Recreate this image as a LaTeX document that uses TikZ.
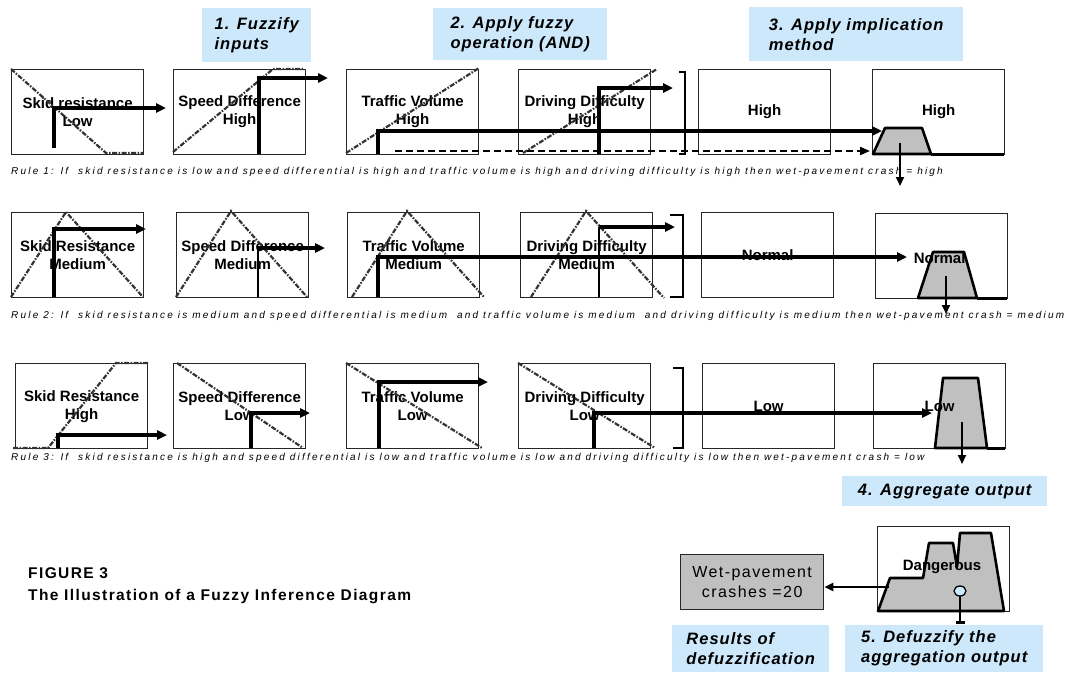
\documentclass[tikz,border=0pt]{standalone}
\usepackage{fontspec}
\setmainfont{Liberation Sans}
\newfontfamily\stepfont[LetterSpace=6]{Liberation Sans}
\newfontfamily\rulefont[LetterSpace=22]{Liberation Sans}
\newfontfamily\capfont[LetterSpace=9]{Liberation Sans}
\usetikzlibrary{positioning, calc, arrows.meta}
\definecolor{stepblue}{RGB}{204,232,250}
\definecolor{aggray}{RGB}{192,192,192}
\tikzset{
    mf box/.style={rectangle, draw=black!85, line width=1.3pt, minimum width=132pt, minimum height=85pt, anchor=north west, inner sep=0pt, align=center, font=\fontsize{15}{18}\selectfont\bfseries},
    out label/.style={inner sep=0pt, font=\fontsize{15}{18}\selectfont\bfseries},
    step label/.style={rectangle, fill=stepblue, anchor=north west, inner sep=0pt, align=left, font=\stepfont\fontsize{16.5}{20}\selectfont\bfseries\itshape},
    rule text/.style={anchor=west, inner sep=0pt, font=\rulefont\fontsize{10}{12}\selectfont\itshape},
    mf curve/.style={line width=2.2pt, black!80, dash pattern=on 5pt off 1.5pt on 1.5pt off 1.5pt},
    fire arrow/.style={line width=3.4pt, -{Triangle[length=10pt, width=9pt]}},
    min arrow/.style={line width=2pt, dash pattern=on 7pt off 4pt, -{Triangle[length=10pt, width=8pt]}},
    down arrow/.style={line width=2pt, -{Triangle[length=9pt, width=8pt]}},
    thin cut/.style={line width=1.3pt},
    bracket/.style={line width=2.4pt},
    out shape/.style={fill=aggray, draw=black, line width=2.6pt, line join=round},
}

\begin{document}
\begin{tikzpicture}[x=1pt, y=-1pt]
    \useasboundingbox (0,0) rectangle (1065,672);

    % step headings
    \node[step label, minimum width=109pt, minimum height=54pt] (fuzzify) at (202,8) {1. Fuzzify\\inputs};
    \node[step label, minimum width=174pt, minimum height=52pt] (fuzzyop) at (433,8) {2. Apply fuzzy\\operation (AND)};
    \node[step label, minimum width=214pt, minimum height=54pt] (implic) at (749,7) {3. Apply implication\\method};

    % rule 1
    \node[mf box] (r1skid) at (11,69) {Skid resistance\\Low};
    \node[mf box] (r1speed) at (173,69) {Speed Difference\\High};
    \node[mf box] (r1traffic) at (346,69) {Traffic Volume\\High};
    \node[mf box] (r1drive) at (518,69) {Driving Difficulty\\High};
    \node[mf box] (r1cons) at (698,69) {High};
    \node[mf box] (r1impl) at (872,69) {};
    \draw[mf curve] (11,69) -- (106,153) -- (143,153);
    \draw[mf curve] (173,152) -- (273,69) -- (304,69);
    \draw[mf curve] (346,153) -- (479,68);
    \draw[mf curve] (523,153) -- (657,69);
    \coordinate (r1a) at (54,148);   \coordinate (r1a out) at (166,108);
    \coordinate (r1b) at (259,154);  \coordinate (r1b out) at (328,78);
    \coordinate (r1c) at (378,154);  \coordinate (r1c out) at (882,131);
    \coordinate (r1d) at (599,154);  \coordinate (r1d out) at (673,88);
    \coordinate (r1min) at (395,151); \coordinate (r1min out) at (870,151);
    \draw[fire arrow] (r1a) |- (r1a out);
    \draw[fire arrow] (r1b) |- (r1b out);
    \draw[fire arrow] (r1d) |- (r1d out);
    \draw[bracket] (679,72) -- (685,72) -- (685,154) -- (679,154);
    \draw[min arrow] (r1min) -- (r1min out);
    \draw[out shape] (873,154) -- (885,128) -- (922,128) -- (931,154) -- cycle;
    \draw[line width=3pt] (931,154) -- (1004,154);
    \draw[fire arrow] (r1c) |- (r1c out);
    \node[out label] at (r1impl.center) {High};
    \coordinate (r1top) at (900,143); \coordinate (r1low) at (900,186);
    \draw[down arrow] (r1top) -- (r1low);
    \node[rule text] (rule1) at (11,172) {Rule 1: If\ \ skid resistance is low and speed differential is high and traffic volume is high and driving difficulty is high then wet-pavement crash = high};

    % rule 2
    \node[mf box] (r2skid) at (11,212) {Skid Resistance\\Medium};
    \node[mf box] (r2speed) at (176,212) {Speed Difference\\Medium};
    \node[mf box] (r2traffic) at (347,212) {Traffic Volume\\Medium};
    \node[mf box] (r2drive) at (520,212) {Driving Difficulty\\Medium};
    \node[mf box] (r2cons) at (701,212) {Normal};
    \node[mf box] (r2impl) at (875,213) {};
    \draw[mf curve] (11,297) -- (66,212) -- (143,297);
    \draw[mf curve] (176,297) -- (231,211) -- (307,297);
    \draw[mf curve] (352,297) -- (407,211) -- (484,297);
    \draw[mf curve] (531,297) -- (586,211) -- (664,298);
    \coordinate (r2a) at (54,297);   \coordinate (r2a out) at (146,229);
    \coordinate (r2b) at (258,297);  \coordinate (r2b cut) at (258,248); \coordinate (r2b out) at (325,248);
    \coordinate (r2c) at (378,297);  \coordinate (r2c out) at (907,257);
    \coordinate (r2d) at (599,297);  \coordinate (r2d cut) at (599,227); \coordinate (r2d out) at (675,227);
    \draw[fire arrow] (r2a) |- (r2a out);
    \draw[thin cut] (r2b) -- (r2b cut);
    \draw[fire arrow] (r2b cut) -- (r2b out);
    \draw[thin cut] (r2d) -- (r2d cut);
    \draw[fire arrow] (r2d cut) -- (r2d out);
    \draw[bracket] (670,215) -- (683,215) -- (683,297) -- (670,297);
    \draw[out shape] (918,298) -- (933,252) -- (964,252) -- (977,298) -- cycle;
    \draw[line width=3pt] (977,298) -- (1007,298);
    \draw[fire arrow] (r2c) |- (r2c out);
    \node[out label] at ($(r2impl.center)+(-2,2)$) {Normal};
    \coordinate (r2top) at (946,276); \coordinate (r2low) at (946,314);
    \draw[down arrow] (r2top) -- (r2low);
    \node[rule text] (rule2) at (11,316) {Rule 2: If\ \ skid resistance is medium and speed differential is medium\ \ and traffic volume is medium\ \ and driving difficulty is medium then wet-pavement crash = medium};

    % rule 3
    \node[mf box] (r3skid) at (15,363) {Skid Resistance\\High};
    \node[mf box] (r3speed) at (173,363) {Speed Difference\\Low};
    \node[mf box] (r3traffic) at (346,363) {Traffic Volume\\Low};
    \node[mf box] (r3drive) at (518,363) {Driving Difficulty\\Low};
    \node[mf box] (r3cons) at (702,363) {Low};
    \node[mf box] (r3impl) at (873,363) {};
    \draw[mf curve] (13,448) -- (48,448) -- (116,363) -- (148,363);
    \draw[mf curve] (177,363) -- (303,448);
    \draw[mf curve] (346,363) -- (482,448);
    \draw[mf curve] (518,363) -- (655,448);
    \coordinate (r3a) at (58,448);   \coordinate (r3a out) at (167,435);
    \coordinate (r3b) at (251,448);  \coordinate (r3b out) at (310,413);
    \coordinate (r3c) at (379,448);  \coordinate (r3c out) at (488,382);
    \coordinate (r3d) at (594,448);  \coordinate (r3d out) at (932,413);
    \draw[fire arrow] (r3a) |- (r3a out);
    \draw[fire arrow] (r3b) |- (r3b out);
    \draw[fire arrow] (r3c) |- (r3c out);
    \draw[bracket] (673,368) -- (683,368) -- (683,448) -- (673,448);
    \draw[out shape] (935,448) -- (943,378) -- (978,378) -- (987,448) -- cycle;
    \draw[line width=3pt] (987,448) -- (1005,448);
    \draw[fire arrow] (r3d) |- (r3d out);
    \node[out label] at (r3impl.center) {Low};
    \coordinate (r3top) at (962,422); \coordinate (r3low) at (962,464);
    \draw[down arrow] (r3top) -- (r3low);
    \node[rule text] (rule3) at (11,458) {Rule 3: If\ \ skid resistance is high and speed differential is low and traffic volume is low and driving difficulty is low then wet-pavement crash = low};

    % aggregation and defuzzification
    \node[step label, minimum width=205pt, minimum height=30pt] (aggregate) at (842,476) {4. Aggregate output};
    \node[mf box] (aggbox) at (877,526) {};
    \draw[out shape] (878,611) -- (890,578) -- (923,578) -- (929,543) -- (953,543) -- (957,567)
        -- (960,533) -- (991,533) -- (1004,611) -- cycle;
    \node[out label] (danger) at (942,567) {Dangerous};
    \node[rectangle, draw=black!85, line width=1.3pt, fill=aggray, minimum width=143pt, minimum height=55pt, anchor=north west, align=center, inner sep=0pt, font=\capfont\fontsize{16}{20}\selectfont] (crashes) at (680,554) {Wet-pavement\\crashes =20};
    \coordinate (aggedge) at (889,587);
    \draw[down arrow] (aggedge) -- (crashes.east |- aggedge);
    \coordinate (centroid) at (960,591); \coordinate (centfoot) at (960,624);
    \draw[line width=2.6pt, -{Bar[width=9pt]}] (centroid) -- (centfoot);
    \draw[line width=1.3pt, fill=stepblue] (centroid) ellipse (6 and 5);
    \node[step label, minimum width=157pt, minimum height=47pt] (results) at (672,625) {Results of\\defuzzification};
    \node[step label, minimum width=198pt, minimum height=47pt] (defuzz) at (845,625) {5. Defuzzify the\\aggregation output};

    % caption
    \node[anchor=west, align=left, inner sep=0pt, font=\capfont\fontsize{15.5}{22}\selectfont\bfseries] (caption) at (28,586) {FIGURE 3\\The Illustration of a Fuzzy Inference Diagram};
\end{tikzpicture}
\end{document}
